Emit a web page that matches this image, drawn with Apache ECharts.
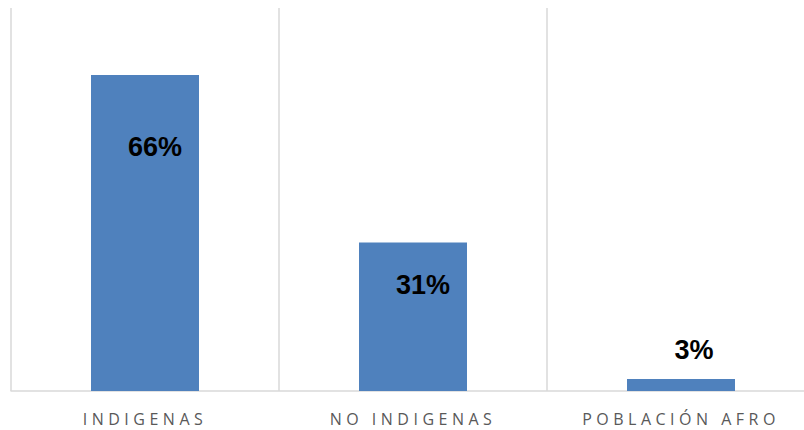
<!DOCTYPE html>
<html>
<head>
<meta charset="utf-8">
<script src="https://cdn.jsdelivr.net/npm/echarts@6/dist/echarts.min.js"></script>
<style>
html,body{margin:0;padding:0;background:#fff;}
#chart{width:804px;height:430px;}
#chart svg text[fill="#595959"]{letter-spacing:4.5px;}
</style>
</head>
<body>
<div id="chart"></div>
<script>
const categories = ["INDIGENAS", "NO INDIGENAS", "POBLACIÓN AFRO"];
const values = [66, 31, 2.5];
const labelTexts = ["66%", "31%", "3%"];

const labelPos = [[64, 72], [64, 42], [67, -29]];

const chart = echarts.init(document.getElementById('chart'), null, {renderer: 'svg'});
chart.setOption({
  animation: false,
  grid: {left: 11, top: 8, height: 383, width: 804, containLabel: false, outerBoundsMode: 'none'},
  xAxis: {
    type: 'category',
    data: categories,
    boundaryGap: true,
    axisLine: {show: true, lineStyle: {color: '#d9d9d9', width: 1.5}},
    axisTick: {show: false},
    splitLine: {show: true, interval: 0, lineStyle: {color: '#d9d9d9', width: 1.5}},
    axisLabel: {color: '#595959', fontFamily: 'Open Sans', fontSize: 16, margin: 20, interval: 0}
  },
  yAxis: {
    type: 'value', min: 0, max: 80, show: false,
    splitLine: {show: false}
  },
  series: [{
    type: 'bar',
    barWidth: 108,
    itemStyle: {color: '#4F81BD'},
    data: values.map((v, i) => ({
      value: v,
      label: {
        show: true,
        position: labelPos[i],
        align: 'center',
        verticalAlign: 'middle',
        formatter: labelTexts[i],
        color: '#000',
        fontFamily: 'Liberation Sans',
        fontWeight: 'bold',
        fontSize: 27
      }
    }))
  }]
});
</script>
</body>
</html>
